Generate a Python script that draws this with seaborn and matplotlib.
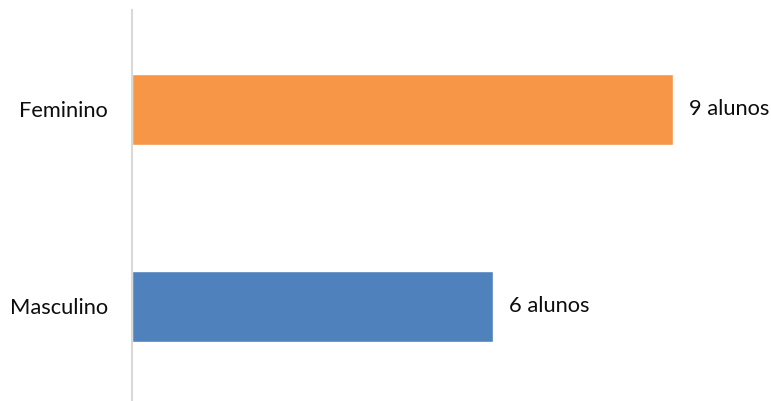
import matplotlib
matplotlib.use("Agg")
import matplotlib.pyplot as plt
import seaborn as sns
import pandas as pd

categories = ["Feminino", "Masculino"]
values = [9, 6]
labels = ["9 alunos", "6 alunos"]
colors = ["#F79646", "#4F81BD"]

sns.set_theme(style="white")
plt.rcParams["font.family"] = ["Lato", "DejaVu Sans"]

df = pd.DataFrame({"cat": categories, "val": values})

fig = plt.figure(figsize=(7.71, 4.01), dpi=100)
ax = fig.add_axes([131.5 / 771, 1 - 400 / 401, 1 - 131.5 / 771, 390 / 401])
sns.barplot(data=df, x="val", y="cat", hue="cat", palette=colors, orient="h",
            width=0.36, legend=False, ax=ax, saturation=1)

ax.set_xlim(0, 639.5 / 60.2)
ax.set_ylim(1.475, -0.505)
for s in ["top", "right", "bottom"]:
    ax.spines[s].set_visible(False)
ax.spines["left"].set_color("#D9D9D9")
ax.spines["left"].set_linewidth(1.5)
ax.set_xticks([])
ax.set_xlabel("")
ax.set_ylabel("")
ax.tick_params(axis="y", length=0, pad=17, labelsize=15.75, labelcolor="#0d0d0d")

for i, (v, lab) in enumerate(zip(values, labels)):
    ax.annotate(lab, (v, i), xytext=(11.5, 0), textcoords="offset points",
                va="center", ha="left", fontsize=15.75, color="#0d0d0d")

fig.savefig("out.png", dpi=100)
